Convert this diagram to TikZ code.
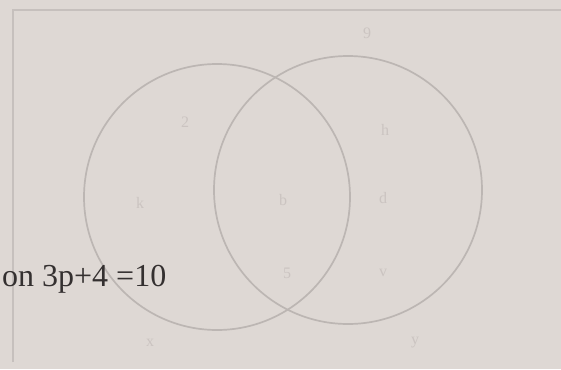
\documentclass[tikz,border=0pt]{standalone}
\usepackage{fontspec}
\setmainfont{Liberation Serif}
\usepackage{tikz}
\usetikzlibrary{positioning}

\definecolor{paper}{RGB}{222,216,212}
\definecolor{pencil}{RGB}{188,182,179}
\definecolor{ghost}{RGB}{203,196,193}
\definecolor{ink}{RGB}{52,48,48}

\tikzset{
    setline/.style={draw=pencil, line width=1.7pt},
    faint/.style={text=ghost, font=\fontsize{16}{17}\selectfont, inner sep=0pt},
}

\begin{document}
\begin{tikzpicture}[x=1pt, y=-1pt]

    % page of the photo
    \fill[paper] (0,0) rectangle (561,369);
    \useasboundingbox (0,0) rectangle (561,369);

    % box round the sets
    \coordinate (tl) at (13,10);
    \coordinate (tr) at (561,10);
    \coordinate (bl) at (13,362);
    \draw[draw=pencil!70!paper, line width=1.6pt] (bl) -- (tl) -- (tr);

    % the two sets
    \draw[setline] (217,197) circle [radius=133];
    \draw[setline] (348,190) circle [radius=134];

    % elements, hardly legible
    \node[faint] (ea) at (185,122) {2};
    \node[faint] (eb) at (140,203) {k};
    \node[faint] (ec) at (283,200) {b};
    \node[faint] (ed) at (287,273) {5};
    \node[faint] (ee) at (385,130) {h};
    \node[faint] (ef) at (383,198) {d};
    \node[faint] (eg) at (383,273) {v};
    \node[faint] (eh) at (367,33) {9};
    \node[faint] (ei) at (150,343) {x};
    \node[faint] (ej) at (415,343) {y};

    % equation cut at the left
    \node[anchor=base west, inner sep=0pt, text=ink,
          font=\fontsize{32}{33}\selectfont] (eq) at (2,286) {on 3p+4 =10};

\end{tikzpicture}
\end{document}
